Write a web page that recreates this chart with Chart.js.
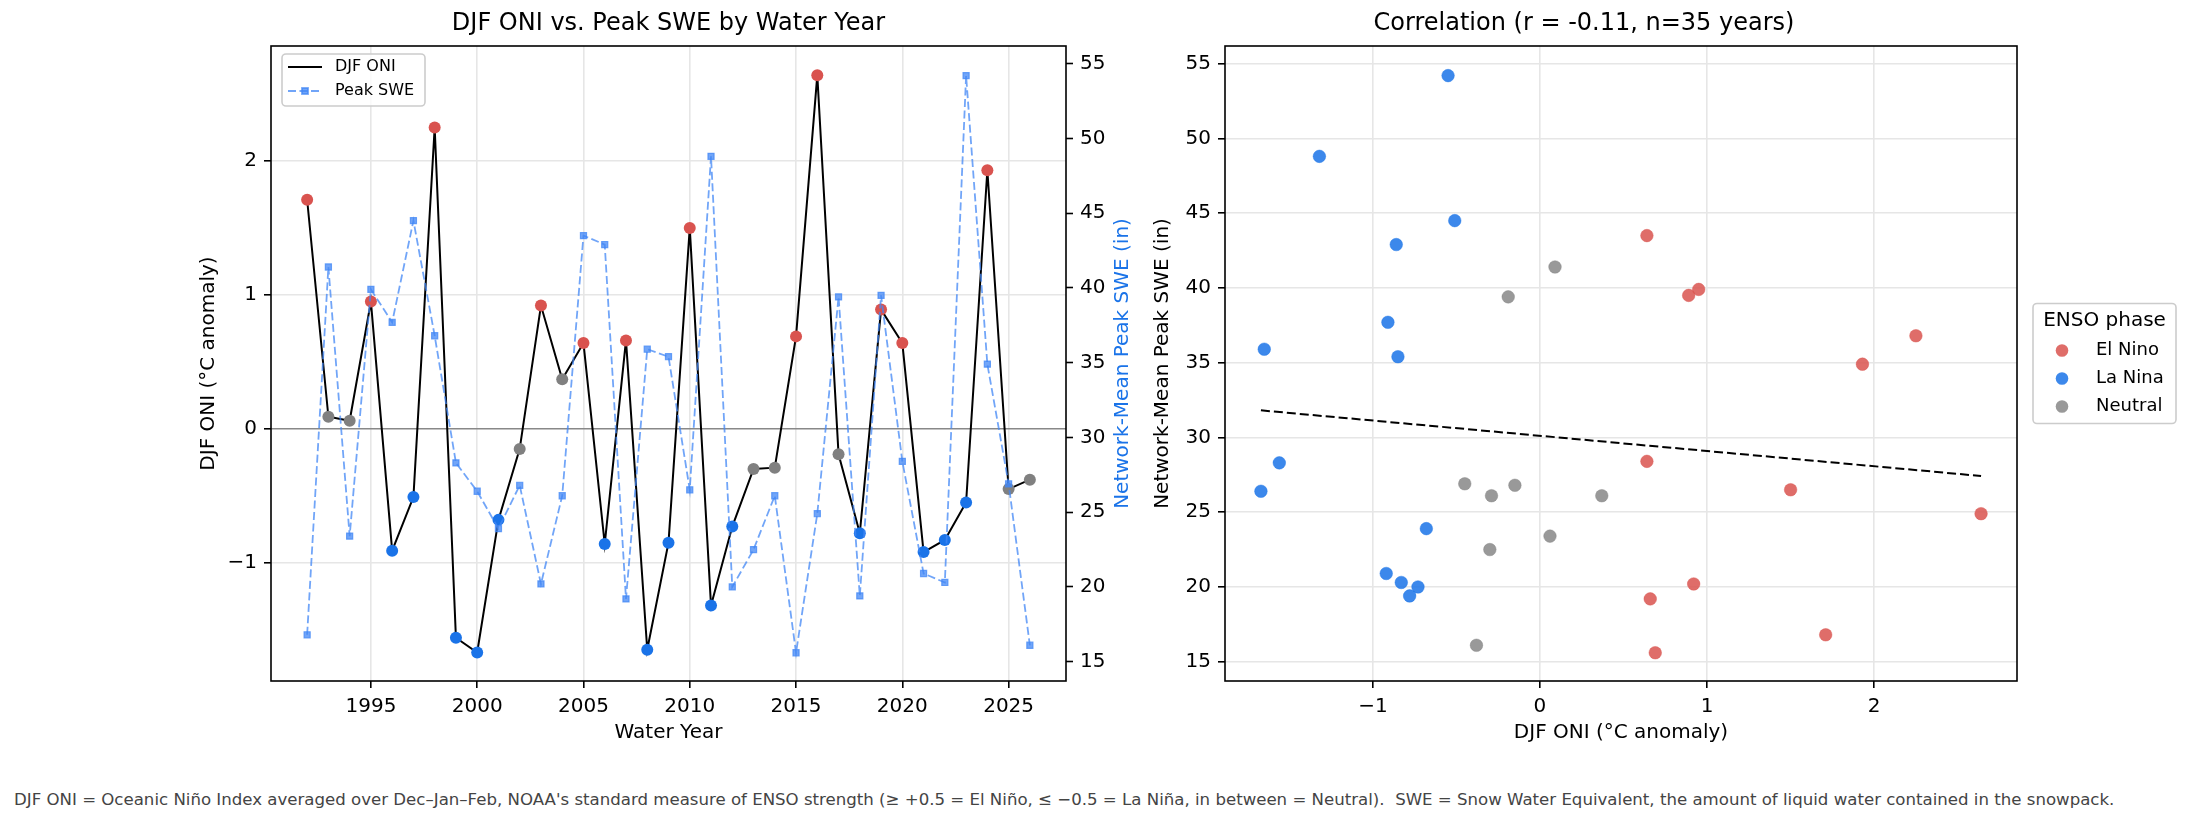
<!DOCTYPE html>
<html>
<head>
<meta charset="utf-8">
<script src="https://cdn.jsdelivr.net/npm/chart.js@4.4.1/dist/chart.umd.min.js"></script>
<style>
  html, body { margin: 0; padding: 0; background: #fff; }
  body { width: 2190px; height: 823px; position: relative; overflow: hidden; font-family: 'DejaVu Sans', sans-serif; }
  #left { position: absolute; left: 0; top: 0; }
  #right { position: absolute; left: 1140px; top: 0; }
  #note { position: absolute; left: 14px; top: 790px; font-size: 16.6px; color: #444; white-space: pre; }
</style>
</head>
<body>
<canvas id="left" width="1140" height="760"></canvas>
<canvas id="right" width="1050" height="760"></canvas>
<div id="note">DJF ONI = Oceanic Niño Index averaged over Dec–Jan–Feb, NOAA's standard measure of ENSO strength (≥ +0.5 = El Niño, ≤ −0.5 = La Niña, in between = Neutral).  SWE = Snow Water Equivalent, the amount of liquid water contained in the snowpack.</div>
<script>
// water years and values
const years = [1992, 1993, 1994, 1995, 1996, 1997, 1998, 1999, 2000, 2001, 2002, 2003,
  2004, 2005, 2006, 2007, 2008, 2009, 2010, 2011, 2012, 2013, 2014, 2015,
  2016, 2017, 2018, 2019, 2020, 2021, 2022, 2023, 2024, 2025, 2026];
const oni = [1.71, 0.09, 0.06, 0.95, -0.91, -0.51, 2.25, -1.56, -1.67, -0.68, -0.15, 0.92,
  0.37, 0.64, -0.86, 0.66, -1.65, -0.85, 1.50, -1.32, -0.73, -0.30, -0.29, 0.69,
  2.64, -0.19, -0.78, 0.89, 0.64, -0.92, -0.83, -0.55, 1.93, -0.45, -0.38];
const swe = [16.8, 41.4, 23.4, 39.9, 37.7, 44.5, 36.8, 28.3, 26.4, 23.9, 26.8, 20.2,
  26.1, 43.5, 42.9, 19.2, 35.9, 35.4, 26.5, 48.8, 20.0, 22.5, 26.1, 15.6,
  24.9, 39.4, 19.4, 39.5, 28.4, 20.9, 20.3, 54.2, 34.9, 26.9, 16.1];

const yearTicks = [1995, 2000, 2005, 2010, 2015, 2020, 2025];
const oniTicks = [-1, 0, 1, 2];
const sweTicks = [15, 20, 25, 30, 35, 40, 45, 50, 55];
const corrTicks = [-1, 0, 1, 2];
const phases = ['El Nino', 'La Nina', 'Neutral'];

const solid = { 'El Nino': '#d9534f', 'La Nina': '#1a73e8', 'Neutral': '#808080' };
const soft = { 'El Nino': 'rgba(217,83,79,0.85)', 'La Nina': 'rgba(26,115,232,0.85)', 'Neutral': 'rgba(128,128,128,0.8)' };
const sweBlue = 'rgba(66,135,245,0.75)';

function phaseOf(v) {
  if (v >= 0.5) return 'El Nino';
  if (v <= -0.5) return 'La Nina';
  return 'Neutral';
}
function fmt(v) {
  return v < 0 ? '\u2212' + Math.abs(v) : String(v);
}

Chart.defaults.font.family = "'DejaVu Sans', sans-serif";
Chart.defaults.color = '#000';

const FONT = "'DejaVu Sans', sans-serif";

const framePlugin = {
  id: 'frame',
  afterDraw(chart) {
    const { ctx, chartArea: a } = chart;
    ctx.save();
    ctx.strokeStyle = '#000';
    ctx.lineWidth = 1.6;
    ctx.strokeRect(a.left, a.top, a.right - a.left, a.bottom - a.top);
    ctx.restore();
  }
};

// legend box in the upper left of the time series panel
const seriesLegend = {
  id: 'seriesLegend',
  afterDraw(chart) {
    const { ctx, chartArea: a } = chart;
    const x = a.left + 11, y = a.top + 8, w = 143, h = 52;
    const ds = chart.data.datasets;
    ctx.save();
    ctx.fillStyle = 'rgba(255,255,255,0.8)';
    ctx.strokeStyle = '#cccccc';
    ctx.lineWidth = 1.6;
    ctx.beginPath();
    ctx.roundRect(x, y, w, h, 4);
    ctx.fill();
    ctx.stroke();

    ctx.strokeStyle = '#000';
    ctx.lineWidth = 2;
    ctx.beginPath();
    ctx.moveTo(x + 6, y + 13);
    ctx.lineTo(x + 40, y + 13);
    ctx.stroke();

    ctx.strokeStyle = sweBlue;
    ctx.lineWidth = 1.8;
    ctx.setLineDash([8, 3.5]);
    ctx.beginPath();
    ctx.moveTo(x + 6, y + 37);
    ctx.lineTo(x + 40, y + 37);
    ctx.stroke();
    ctx.setLineDash([]);
    ctx.fillStyle = sweBlue;
    ctx.fillRect(x + 20, y + 34, 6, 6);
    ctx.strokeRect(x + 20, y + 34, 6, 6);

    ctx.fillStyle = '#000';
    ctx.font = '16px ' + FONT;
    ctx.textBaseline = 'middle';
    ctx.fillText(ds.find(d => d.yAxisID === 'y').label, x + 53, y + 13);
    ctx.fillText(ds.find(d => d.yAxisID === 'y1').label, x + 53, y + 37);
    ctx.restore();
  }
};

// secondary axis title, reading bottom to top
const rightAxisTitle = {
  id: 'rightAxisTitle',
  afterDraw(chart) {
    const { ctx, chartArea: a } = chart;
    ctx.save();
    ctx.translate(a.right + 57, (a.top + a.bottom) / 2);
    ctx.rotate(-Math.PI / 2);
    ctx.fillStyle = '#1a73e8';
    ctx.font = '20px ' + FONT;
    ctx.textAlign = 'center';
    ctx.textBaseline = 'middle';
    ctx.fillText('Network-Mean Peak SWE (in)', 0, 0);
    ctx.restore();
  }
};

const phaseLegend = {
  id: 'phaseLegend',
  afterDraw(chart) {
    const { ctx, chartArea: a } = chart;
    const w = 143, h = 120;
    const x = a.right + 16, y = (a.top + a.bottom) / 2 - h / 2;
    ctx.save();
    ctx.fillStyle = 'rgba(255,255,255,0.8)';
    ctx.strokeStyle = '#cccccc';
    ctx.lineWidth = 1.6;
    ctx.beginPath();
    ctx.roundRect(x, y, w, h, 4);
    ctx.fill();
    ctx.stroke();
    ctx.fillStyle = '#000';
    ctx.font = '20px ' + FONT;
    ctx.textAlign = 'center';
    ctx.textBaseline = 'middle';
    ctx.fillText('ENSO phase', x + w / 2, y + 17);
    ctx.textAlign = 'left';
    ctx.font = '18px ' + FONT;
    phases.forEach((p, i) => {
      const ry = y + 47 + i * 28;
      ctx.fillStyle = soft[p];
      ctx.beginPath();
      ctx.arc(x + 29, ry, 6.3, 0, Math.PI * 2);
      ctx.fill();
      ctx.fillStyle = '#000';
      ctx.fillText(p, x + 63, ry);
    });
    ctx.restore();
  }
};

const tickFont = { size: 20 };
const gridStyle = { color: '#e6e6e6', lineWidth: 1.6, tickColor: '#000', tickLength: 7, tickWidth: 1.6 };

new Chart(document.getElementById('left'), {
  type: 'line',
  data: {
    datasets: [
      {
        label: 'Peak SWE',
        yAxisID: 'y1',
        data: years.map((yr, i) => ({ x: yr, y: swe[i] })),
        borderColor: sweBlue,
        borderWidth: 1.8,
        borderDash: [8, 3.5],
        pointStyle: 'rect',
        pointRadius: 4.3,
        pointBackgroundColor: sweBlue,
        pointBorderColor: sweBlue,
        pointBorderWidth: 1.2,
        tension: 0,
        order: 0
      },
      {
        label: 'DJF ONI',
        yAxisID: 'y',
        data: years.map((yr, i) => ({ x: yr, y: oni[i] })),
        borderColor: '#000',
        borderWidth: 2,
        pointRadius: 6,
        pointBorderWidth: 0,
        pointBackgroundColor: oni.map(v => solid[phaseOf(v)]),
        tension: 0,
        order: 1
      }
    ]
  },
  options: {
    responsive: false,
    animation: false,
    layout: { padding: { left: 197, right: 0, top: 0, bottom: 0 } },
    plugins: {
      legend: { display: false },
      tooltip: { enabled: false },
      title: {
        display: true,
        text: 'DJF ONI vs. Peak SWE by Water Year',
        font: { size: 24, weight: 'normal' },
        color: '#000',
        padding: { top: 9, bottom: 8.2 }
      }
    },
    scales: {
      x: {
        type: 'linear',
        min: 1990.3,
        max: 2027.7,
        afterBuildTicks: s => { s.ticks = yearTicks.map(v => ({ value: v })); },
        afterFit: s => { s.height = 79; },
        ticks: { font: tickFont, color: '#000', padding: 7, maxRotation: 0, callback: v => String(v) },
        grid: gridStyle,
        border: { display: false },
        title: { display: true, text: 'Water Year', font: { size: 20 }, color: '#000', padding: { top: 0, bottom: 15 } }
      },
      y: {
        position: 'left',
        min: -1.883,
        max: 2.858,
        afterBuildTicks: s => { s.ticks = oniTicks.map(v => ({ value: v })); },
        afterFit: s => { s.width = 74; },
        ticks: { font: tickFont, color: '#000', padding: 7, callback: v => fmt(v) },
        grid: {
          color: c => (c.tick && c.tick.value === 0 ? '#888888' : '#e6e6e6'),
          lineWidth: 1.6, tickColor: '#000', tickLength: 7, tickWidth: 1.6
        },
        border: { display: false },
        title: { display: true, text: 'DJF ONI (°C anomaly)', font: { size: 20 }, color: '#000', padding: { top: 0, bottom: 0 } }
      },
      y1: {
        position: 'right',
        min: 13.71,
        max: 56.18,
        afterBuildTicks: s => { s.ticks = sweTicks.map(v => ({ value: v })); },
        afterFit: s => { s.width = 74; },
        ticks: { font: tickFont, color: '#000', padding: 7, callback: v => String(v) },
        grid: { drawOnChartArea: false, tickColor: '#000', tickLength: 7, tickWidth: 1.6 },
        border: { display: false }
      }
    }
  },
  plugins: [framePlugin, seriesLegend, rightAxisTitle]
});

// least squares trend of SWE on ONI
const n = oni.length;
const mx = oni.reduce((s, v) => s + v, 0) / n;
const my = swe.reduce((s, v) => s + v, 0) / n;
let sxy = 0, sxx = 0;
for (let i = 0; i < n; i++) {
  sxy += (oni[i] - mx) * (swe[i] - my);
  sxx += (oni[i] - mx) * (oni[i] - mx);
}
const slope = sxy / sxx;
const icpt = my - slope * mx;
const xlo = Math.min(...oni), xhi = Math.max(...oni);

const scatterSets = phases.map(p => ({
  label: p,
  type: 'scatter',
  data: oni.map((v, i) => ({ x: v, y: swe[i] })).filter(pt => phaseOf(pt.x) === p),
  pointRadius: 6.3,
  pointBackgroundColor: soft[p],
  pointBorderColor: soft[p],
  pointBorderWidth: 0.5,
  order: 1
}));

new Chart(document.getElementById('right'), {
  type: 'scatter',
  data: {
    datasets: scatterSets.concat([{
      label: 'trend',
      type: 'line',
      data: [{ x: xlo, y: icpt + slope * xlo }, { x: xhi, y: icpt + slope * xhi }],
      borderColor: '#000',
      borderWidth: 2,
      borderDash: [9, 4],
      pointRadius: 0,
      order: 0
    }])
  },
  options: {
    responsive: false,
    animation: false,
    layout: { padding: { left: 11, right: 173, top: 0, bottom: 0 } },
    plugins: {
      legend: { display: false },
      tooltip: { enabled: false },
      title: {
        display: true,
        text: 'Correlation (r = -0.11, n=35 years)',
        font: { size: 24, weight: 'normal' },
        color: '#000',
        padding: { top: 9, bottom: 8.2 }
      }
    },
    scales: {
      x: {
        type: 'linear',
        min: -1.885,
        max: 2.855,
        afterBuildTicks: s => { s.ticks = corrTicks.map(v => ({ value: v })); },
        afterFit: s => { s.height = 79; },
        ticks: { font: tickFont, color: '#000', padding: 7, maxRotation: 0, callback: v => fmt(v) },
        grid: gridStyle,
        border: { display: false },
        title: { display: true, text: 'DJF ONI (°C anomaly)', font: { size: 20 }, color: '#000', padding: { top: 0, bottom: 15 } }
      },
      y: {
        min: 13.71,
        max: 56.18,
        afterBuildTicks: s => { s.ticks = sweTicks.map(v => ({ value: v })); },
        afterFit: s => { s.width = 74; },
        ticks: { font: tickFont, color: '#000', padding: 7, callback: v => String(v) },
        grid: gridStyle,
        border: { display: false },
        title: { display: true, text: 'Network-Mean Peak SWE (in)', font: { size: 20 }, color: '#000', padding: { top: 0, bottom: 0 } }
      }
    }
  },
  plugins: [framePlugin, phaseLegend]
});
</script>
</body>
</html>
